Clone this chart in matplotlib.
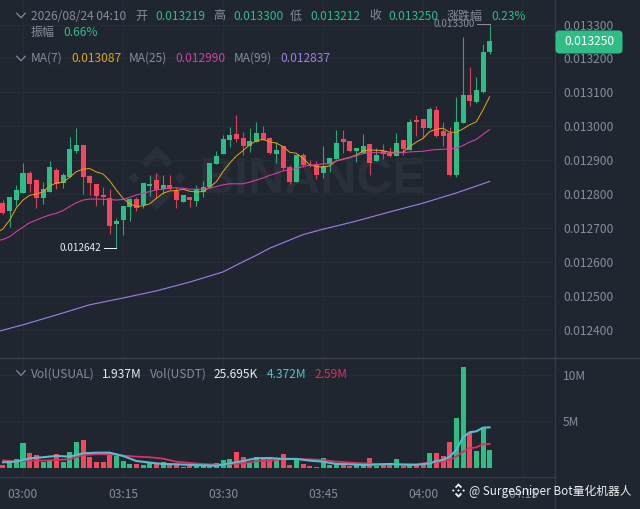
import numpy as np
import matplotlib
matplotlib.use("Agg")
import matplotlib.pyplot as plt
from matplotlib.transforms import Affine2D
from matplotlib.patches import FancyBboxPatch, Polygon
from matplotlib.lines import Line2D
from matplotlib.ticker import FormatStrFormatter

plt.rcParams['font.family'] = ['Noto Sans CJK SC', 'DejaVu Sans']

# ---------- data (prices in millionths) ----------
candle_start = -3
open_ = [12774,12750,12782,12804,12861,12841,12787,12806,12871,12832,12851,12928,12945,12853,12830,12797,12789,
         12711,12723,12762,12786,12767,12824,12841,12814,12825,12810,12777,12792,12780,12807,12820,12888,12918,
         12959,12977,12965,12942,12954,12979,12966,12918,12942,12881,12836,12915,12886,12888,12861,12888,12903,
         12961,12957,12928,12922,12947,12898,12928,12922,12913,12959,12930,13018,13020,12996,13048,12985,12981,
         12856,13010,13092,13071,13102,13219]
close = [12743,12790,12812,12863,12830,12788,12814,12880,12830,12855,12932,12945,12851,12833,12794,12790,12706,
         12719,12765,12784,12760,12832,12829,12812,12825,12814,12782,12797,12782,12814,12822,12890,12912,12962,
         12974,12961,12942,12957,12979,12959,12920,12930,12878,12836,12915,12886,12883,12855,12883,12905,12951,
         12953,12928,12936,12942,12891,12914,12918,12913,12951,12932,13012,13013,12994,13051,12971,12971,12856,
         13013,13092,13075,13107,13219,13250]
high = [12782,12792,12827,12892,12868,12843,12836,12898,12877,12862,12967,12994,12945,12856,12830,12822,12815,
        12728,12765,12788,12792,12832,12856,12861,12856,12856,12821,12797,12792,12827,12838,12890,12927,12974,
        12997,13033,12982,12996,13012,13001,12969,12954,12942,12886,12915,12922,12900,12898,12942,12905,12989,
        12989,12957,12936,12976,12947,12936,12947,12940,12981,12959,13020,13033,13020,13058,13060,13013,12997,
        13085,13262,13174,13144,13243,13300]
low = [12741,12703,12765,12804,12807,12759,12770,12806,12815,12818,12851,12922,12800,12797,12765,12768,12682,
       12642,12679,12721,12751,12758,12794,12787,12800,12812,12760,12777,12761,12765,12792,12820,12888,12918,
       12940,12954,12915,12925,12954,12959,12917,12891,12871,12830,12836,12879,12879,12843,12848,12866,12903,
       12920,12925,12895,12922,12856,12898,12902,12908,12913,12915,12930,12971,12969,12991,12969,12942,12853,
       12851,13009,13060,13069,13099,13212]
volume_m = [0.36,0.53,0.96,2.74,1.67,1.42,0.68,0.89,1.53,0.71,1.78,2.81,3.03,1.25,0.71,0.71,1.60,1.32,0.82,0.46,
            0.46,0.36,0.53,0.43,0.68,0.36,0.36,0.18,0.28,0.36,0.36,0.28,0.53,0.85,0.96,1.78,1.25,0.53,1.25,1.07,
            1.07,1.07,1.53,0.36,1.14,0.46,0.28,0.18,1.07,0.36,0.53,0.36,0.28,0.43,0.43,1.07,0.28,0.53,0.36,0.96,
            0.25,0.43,0.36,0.43,1.60,1.67,1.35,2.78,5.41,10.79,3.81,1.89,4.27,1.937]

ma_start = -4
ma7 = [12685,12697,12723,12759,12782,12796,12800,12806,12824,12832,12835,12849,12866,12873,12875,12865,12859,12839,
       12812,12787,12771,12763,12765,12771,12787,12802,12809,12810,12814,12808,12806,12807,12820,12836,12866,12891,
       12912,12928,12945,12957,12961,12954,12950,12940,12923,12920,12905,12886,12881,12879,12883,12898,12903,12908,
       12915,12927,12930,12929,12928,12923,12923,12923,12940,12953,12964,12984,12991,12994,12982,12982,12992,13004,
       13013,13048,13087]
ma25 = [12661,12666,12674,12689,12702,12715,12723,12731,12738,12743,12751,12763,12774,12782,12785,12785,12784,12784,
        12782,12784,12790,12797,12802,12807,12812,12814,12818,12818,12817,12814,12814,12814,12817,12822,12827,12830,
        12830,12830,12835,12841,12847,12855,12861,12868,12871,12875,12881,12885,12886,12889,12889,12897,12902,12907,
        12913,12919,12922,12922,12922,12920,12921,12922,12924,12925,12926,12929,12931,12932,12933,12935,12943,12953,
        12961,12976,12990]
ma99_idx = [-4,0,5,10,15,20,25,30,33,35,37,40,42,45,50,55,60,65,70]
ma99 = [12393,12414,12443,12473,12493,12514,12540,12570,12600,12619,12640,12664,12680,12696,12720,12747,12773,12803,12837]

vol_ma_idx = [-3,-1,1,3,5,7,9,11,13,15,17,19,21,23,25,27,29,31,33,35,37,39,41,43,45,47,49,51,53,55,57,59,61,62,63,64,65,66,67,68,69,70]
vol_ma1 = [0.64,0.71,1.07,1.18,1.32,1.25,1.60,1.67,1.67,1.32,0.78,0.61,0.46,0.43,0.36,0.32,0.28,0.53,0.78,1.07,
           1.10,1.00,1.00,0.82,0.71,0.46,0.43,0.36,0.39,0.46,0.39,0.36,0.53,0.78,0.89,1.25,1.96,3.31,3.85,3.95,4.34,4.372]
vol_ma2 = [0.85,0.71,0.82,0.82,0.89,0.96,1.42,1.50,1.50,1.35,1.25,1.18,1.03,0.71,0.57,0.46,0.39,0.46,0.53,0.75,
           0.82,0.96,1.00,0.96,0.89,0.71,0.61,0.53,0.46,0.46,0.43,0.43,0.61,0.66,0.71,0.89,1.25,1.78,2.14,2.24,2.56,2.59]

price_ticks = [13300,13200,13100,13000,12900,12800,12700,12600,12500,12400]
vol_ticks = [5, 10]
vol_tick_labels = ['5M', '10M']
time_idx = [0,15,30,45,60,75]
time_labels = ['03:00','03:15','03:30','03:45','04:00','04:15']

# ---------- styles ----------
W, H = 640, 509
BG = '#1F2630'; GRID = '#262D37'; EDGE = '#343A45'; GRAY = '#848E9C'; WHITE = '#EAECEF'
UP = '#2EBD85'; DOWN = '#F6465D'
C_MA7 = '#E2A50E'; C_MA25 = '#D63BA6'; C_MA99 = '#A07FE8'
C_V1 = '#54BFD2'; C_V2 = '#DE2F60'
PX = 0.72

fig = plt.figure(figsize=(W/100, H/100), dpi=100, facecolor=BG)
T = Affine2D().scale(1, -1).translate(0, H)   # pixel layout, origin top-left

def rect(l, t, r, b):
    return [l/W, 1-b/H, (r-l)/W, (b-t)/H]

ax = fig.add_axes(rect(0, 0, 555, 358), facecolor='none')
vx = fig.add_axes(rect(0, 358, 555, 477), facecolor='none')

xlim = ((0-23)/6.6667, (555-23)/6.6667)
o = np.array(open_, float)*1e-6; c = np.array(close, float)*1e-6
h = np.array(high, float)*1e-6; l = np.array(low, float)*1e-6
idx = np.arange(candle_start, candle_start+len(o))
cols = [UP if cc >= oo else DOWN for oo, cc in zip(o, c)]

ax.vlines(idx, l, h, colors=cols, linewidth=0.8, alpha=0.85, zorder=3)
ax.bar(idx, np.maximum(np.abs(c-o), 1e-6), bottom=np.minimum(o, c), width=0.75, color=cols, linewidth=0, zorder=4)
mi = np.arange(ma_start, ma_start+len(ma7))
ax.plot(mi, np.array(ma7)*1e-6, color=C_MA7, lw=0.72, zorder=5)
ax.plot(mi, np.array(ma25)*1e-6, color=C_MA25, lw=0.8, zorder=5)
ax.plot(ma99_idx, np.array(ma99)*1e-6, color=C_MA99, lw=0.8, zorder=5)
ax.set_xlim(*xlim)
ax.set_ylim(12316e-6, 13372.3e-6)
ax.yaxis.tick_right()
ax.set_yticks(np.array(price_ticks)*1e-6)
ax.yaxis.set_major_formatter(FormatStrFormatter('%.6f'))
ax.set_xticks(time_idx)
ax.tick_params(axis='x', length=0, labelbottom=False)
ax.tick_params(axis='y', length=0, pad=8*PX, labelsize=12*PX, labelcolor=GRAY)
ax.grid(True, color=GRID, lw=0.8)
ax.set_axisbelow(True)

vx.bar(idx, volume_m, width=0.75, color=cols, linewidth=0, zorder=3)
vx.plot(vol_ma_idx, vol_ma1, color=C_V1, lw=1.5, zorder=5)
vx.plot(vol_ma_idx, vol_ma2, color=C_V2, lw=1.3, zorder=4)
vx.set_xlim(*xlim)
vx.set_ylim(-0.93, 11.78)
vx.yaxis.tick_right()
vx.set_yticks(vol_ticks); vx.set_yticklabels(vol_tick_labels)
vx.set_xticks(time_idx); vx.set_xticklabels(time_labels)
vx.tick_params(axis='x', length=0, pad=11*PX, labelsize=12*PX, labelcolor=GRAY)
vx.tick_params(axis='y', length=0, pad=8*PX, labelsize=12*PX, labelcolor=GRAY)
vx.grid(True, color=GRID, lw=0.8)
vx.set_axisbelow(True)

for a in (ax, vx):
    for s in a.spines.values():
        s.set_visible(False)

# frame lines
def pxline(xs, ys, color=EDGE, lw=1.0, z=2, **kw):
    fig.add_artist(Line2D(xs, ys, transform=T, color=color, lw=lw*PX, zorder=z, **kw))
pxline([555, 555], [0, 509], lw=1.4)
pxline([0, 640], [358, 358], color='#3A404B', lw=1.4)
pxline([0, 555], [477, 477], lw=1.4)

def txt(x, y, s, color=GRAY, size=12, ha='left', z=6, **kw):
    return fig.text(x, y, s, transform=T, color=color, fontsize=size*PX, ha=ha, va='center', zorder=z, **kw)

# header rows
for s, x, col in [('2026/08/24 04:10',31,GRAY),('开',135,GRAY),('0.013219',155,UP),('高',213,GRAY),('0.013300',233,UP),
                  ('低',290,GRAY),('0.013212',310,UP),('收',369,GRAY),('0.013250',388.5,UP),('涨跌幅',447,GRAY),('0.23%',491,UP)]:
    txt(x, 16, s, col)
txt(31, 32, '振幅', GRAY); txt(63, 32, '0.66%', UP)
for s, x, col in [('MA(7)',31,GRAY),('0.013087',71,C_MA7),('MA(25)',129,GRAY),('0.012990',175.5,C_MA25),
                  ('MA(99)',233.5,GRAY),('0.012837',280,C_MA99)]:
    txt(x, 58, s, col)
for s, x, col in [('Vol(USUAL)',31,GRAY),('1.937M',102,WHITE),('Vol(USDT)',150,GRAY),('25.695K',214,WHITE),
                  ('4.372M',266.5,C_V1),('2.59M',314.5,C_V2)]:
    txt(x, 374, s, col)
for cy in (15.5, 58.5, 373):
    pxline([16.7, 21, 25.3], [cy-2.3, cy+2.3, cy-2.3], color=GRAY, lw=1.2, z=6)

# last price tag
fig.add_artist(FancyBboxPatch((558.5, 33.5), 61, 17, boxstyle='round,pad=3,rounding_size=4', transform=T,
                              fc=UP, ec='none', zorder=7))
txt(589, 41.5, '0.013250', 'white', ha='center', z=8)

# high / low markers
txt(433, 24, '0.013300', GRAY, size=10)
pxline([477, 490], [23.5, 23.5], color=GRAY, z=6)
txt(60, 248, '0.012642', WHITE, size=10)
pxline([104, 116], [247.7, 247.7], color=WHITE, z=6)

# watermark
WM = '#29303A'
def logo(cx, cy, s, color, z):
    sh = [
        [(0,-1),(0.5,-0.5),(0.32,-0.32),(0,-0.64),(-0.32,-0.32),(-0.5,-0.5)],
        [(0,1),(0.5,0.5),(0.32,0.32),(0,0.64),(-0.32,0.32),(-0.5,0.5)],
        [(0,-0.18),(0.18,0),(0,0.18),(-0.18,0)],
        [(-0.72,-0.18),(-0.54,0),(-0.72,0.18),(-0.9,0)],
        [(0.72,-0.18),(0.9,0),(0.72,0.18),(0.54,0)],
    ]
    for p in sh:
        fig.add_artist(Polygon([(cx+s*a, cy+s*b) for a, b in p], closed=True, transform=T, fc=color, ec='none', zorder=z))
logo(157, 178, 32, WM, -1)
fig.text(199, 180, 'BINANCE', transform=T, color=WM, fontsize=50*PX, fontweight='bold', va='center', ha='left',
         family='Liberation Sans', zorder=-1)

# footer mark
logo(458.5, 490.5, 7.2, '#F0F1F3', 9)
txt(469, 491.5, '@ SurgeSniper Bot量化机器人', '#EDEEF0', size=11.8, z=9)

fig.savefig('out.png', dpi=100, facecolor=BG)
